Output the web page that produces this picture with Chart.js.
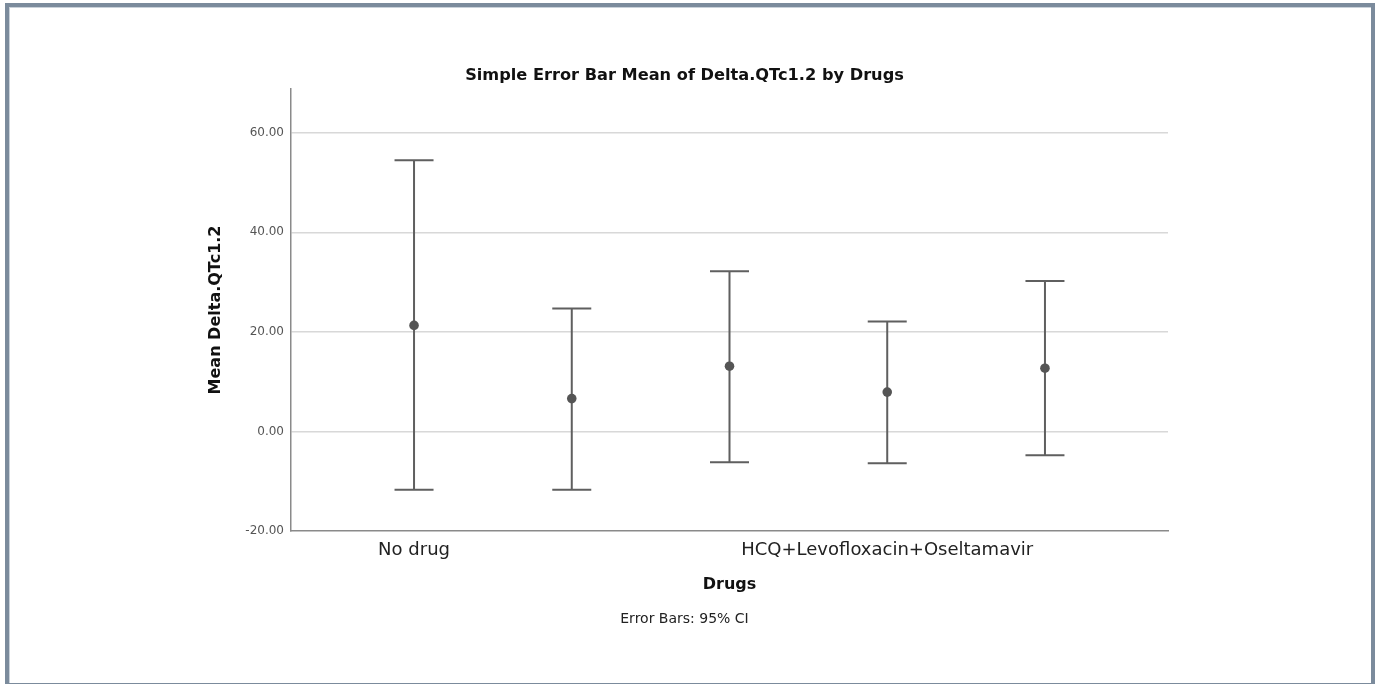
<!DOCTYPE html>
<html>
<head>
<meta charset="utf-8">
<script src="https://cdn.jsdelivr.net/npm/chart.js@4.4.1/dist/chart.umd.min.js"></script>
<style>
  html, body { margin:0; padding:0; background:#fff; }
  #wrap { position:relative; width:1379px; height:684px; overflow:hidden; }
  #frame { position:absolute; left:5px; top:3px; width:1370px; height:684px; box-sizing:border-box;
           border:4px solid #7b8b9c; box-shadow: inset 1px 1px 0 #c9d1d9; }
  #chart { position:absolute; left:0; top:0; }
</style>
</head>
<body>
<div id="wrap">
  <div id="frame"></div>
  <canvas id="chart" width="1379" height="684"></canvas>
</div>
<script>
// Error bar chart: mean with 95% CI per drug group
const categories = ['No drug', '', '', 'HCQ+Levofloxacin+Oseltamavir', ''];
const means = [21.3, 6.6, 13.1, 7.9, 12.7];
const ciLower = [-11.7, -11.7, -6.2, -6.4, -4.8];
const ciUpper = [54.5, 24.7, 32.2, 22.1, 30.2];
const yTicks = [-20, 0, 20, 40, 60];

const FONT = "'DejaVu Sans', sans-serif";

const errorBars = {
  id: 'errorBars',
  beforeDatasetsDraw(chart) {
    const { ctx, scales: { x, y } } = chart;
    ctx.save();
    ctx.strokeStyle = '#5f5f5f';
    ctx.lineWidth = 2;
    categories.forEach((c, i) => {
      const px = x.getPixelForValue(i);
      const lo = y.getPixelForValue(ciLower[i]);
      const hi = y.getPixelForValue(ciUpper[i]);
      ctx.beginPath();
      ctx.moveTo(px, lo); ctx.lineTo(px, hi);
      ctx.moveTo(px - 19.5, lo); ctx.lineTo(px + 19.5, lo);
      ctx.moveTo(px - 19.5, hi); ctx.lineTo(px + 19.5, hi);
      ctx.stroke();
    });
    ctx.restore();
  }
};

new Chart(document.getElementById('chart'), {
  type: 'scatter',
  data: {
    datasets: [{
      data: means.map((m, i) => ({ x: i, y: m })),
      pointRadius: 4.8,
      pointHoverRadius: 4.8,
      backgroundColor: '#555',
      borderWidth: 0
    }]
  },
  options: {
    responsive: false,
    animation: false,
    layout: { padding: { left: 0, right: 10, top: 0, bottom: 0 } },
    plugins: {
      legend: { display: false },
      tooltip: { enabled: false },
      title: {
        display: true,
        text: 'Simple Error Bar Mean of Delta.QTc1.2 by Drugs',
        color: '#111',
        font: { family: FONT, size: 16.2, weight: 'bold', lineHeight: 1.2 },
        padding: { top: 66, bottom: 3.5 }
      },
      subtitle: {
        display: true,
        position: 'bottom',
        text: 'Error Bars: 95% CI',
        color: '#222',
        font: { family: FONT, size: 14, lineHeight: 1.2 },
        padding: { top: 4, bottom: 56.6 }
      }
    },
    scales: {
      x: {
        type: 'linear',
        min: -0.78,
        max: 4.78,
        afterFit(s) { s.height = 75.6; },
        grid: { display: false, drawTicks: false },
        border: { display: true, color: '#8a8a8a', width: 1.5 },
        ticks: {
          stepSize: 1,
          includeBounds: false,
          autoSkip: false,
          maxRotation: 0,
          padding: 8.5,
          color: '#222',
          font: { family: FONT, size: 18 },
          callback: v => categories[v] ?? ''
        },
        title: {
          display: true,
          text: 'Drugs',
          color: '#111',
          font: { family: FONT, size: 16, weight: 'bold', lineHeight: 1.2 },
          padding: { top: 0, bottom: 12 }
        }
      },
      y: {
        min: -20,
        max: 68.8,
        afterFit(s) { s.width = 291; },
        afterBuildTicks(s) { s.ticks = yTicks.map(v => ({ value: v })); },
        grid: {
          drawTicks: false,
          color: c => c.tick && c.tick.value === -20 ? 'rgba(0,0,0,0)' : '#d8d8d8',
          lineWidth: 1.5
        },
        border: { display: true, color: '#8a8a8a', width: 1.5 },
        ticks: {
          padding: 7,
          color: '#555',
          font: { family: FONT, size: 12 },
          callback: v => v.toFixed(2)
        },
        title: {
          display: true,
          text: 'Mean Delta.QTc1.2',
          color: '#111',
          font: { family: FONT, size: 16, weight: 'bold', lineHeight: 1.2 },
          padding: { top: 206.4, bottom: 0 }
        }
      },
      // empty right-hand axis that reserves the blank space right of the plot
      yRight: {
        position: 'right',
        min: -20,
        max: 68.8,
        afterFit(s) { s.width = 201; },
        grid: { display: false, drawTicks: false },
        border: { display: false },
        ticks: { display: false }
      }
    }
  },
  plugins: [errorBars]
});
</script>
</body>
</html>
